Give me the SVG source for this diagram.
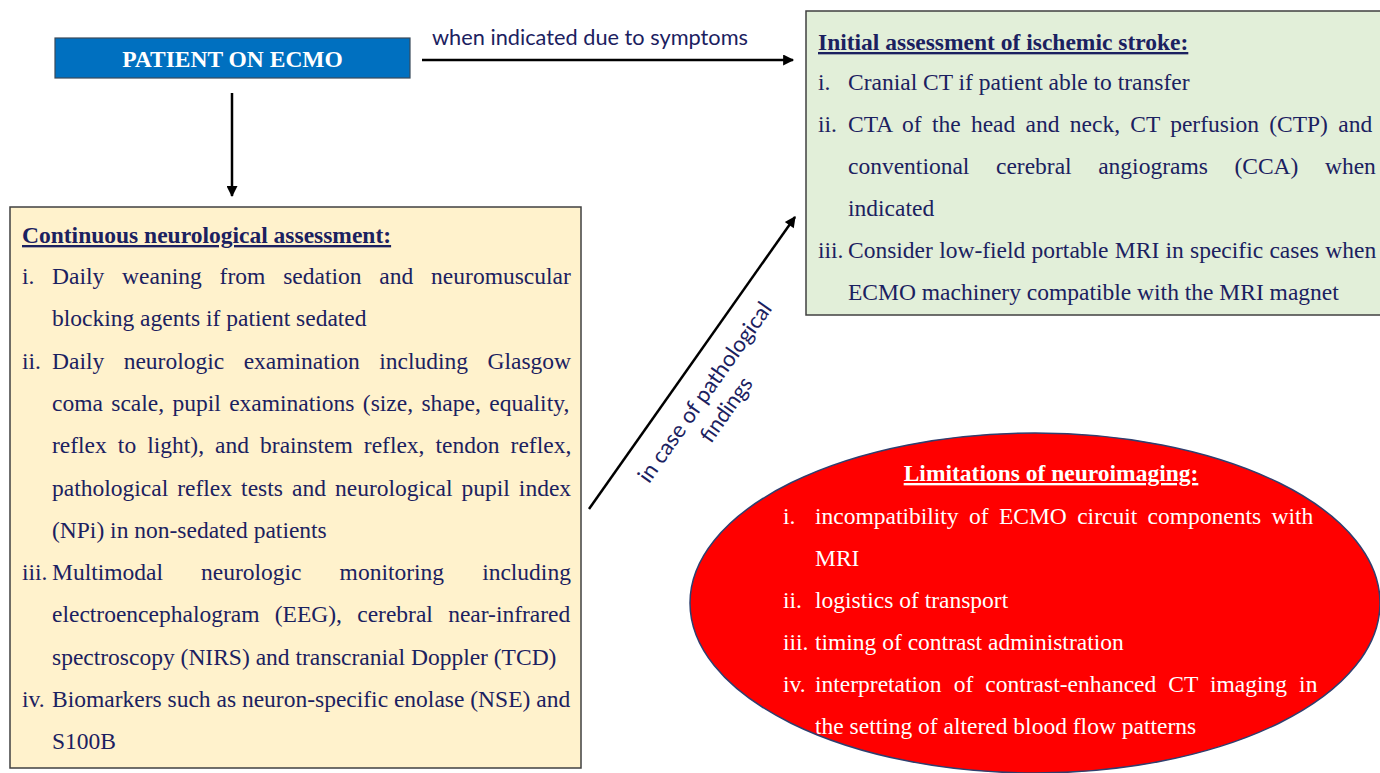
<svg xmlns="http://www.w3.org/2000/svg" width="1380" height="773" viewBox="0 0 1380 773">
<style>
.t{font-family:"Liberation Serif","Times New Roman",serif;font-size:23.5px;fill:#1B2160}
.b{font-weight:bold;text-decoration:underline}
.w{fill:#ffffff}
.c{font-family:Lato,"Open Sans",sans-serif;font-size:22px;fill:#1B2160}
.con{stroke:#000;stroke-width:2.5;fill:none}
</style>
<defs>
<marker id="ah" viewBox="0 0 10 10" refX="9" refY="5" markerWidth="5" markerHeight="4.4" orient="auto" markerUnits="strokeWidth">
<path d="M0,0 L10,5 L0,10 z" fill="#000"/>
</marker>
</defs>
<rect width="1380" height="773" fill="#ffffff"/>

<g id="connectors">
<line class="con" x1="232" y1="93" x2="232" y2="196" marker-end="url(#ah)"/>
<line class="con" x1="422" y1="60" x2="793" y2="60" marker-end="url(#ah)"/>
<line class="con" x1="589" y1="509" x2="795" y2="217" marker-end="url(#ah)"/>
<text class="c" x="432" y="45" textLength="316" lengthAdjust="spacingAndGlyphs">when indicated due to symptoms</text>
<g transform="translate(706,393) rotate(-54.8)">
<text class="c" x="0" y="6" text-anchor="middle" textLength="215" lengthAdjust="spacingAndGlyphs">in case of pathological</text>
<text class="c" x="-2" y="33.5" text-anchor="middle" textLength="74" lengthAdjust="spacingAndGlyphs">findings</text>
</g>
</g>

<g id="patient">
<rect x="55" y="38" width="355" height="40" fill="#0070C0" stroke="#3a4a5a" stroke-width="1.2"/>
<text class="t w" x="232.5" y="67" text-anchor="middle" font-weight="bold" font-size="23">PATIENT ON ECMO</text>
</g>

<g id="initial">
<rect x="806" y="11" width="580" height="304" fill="#E2EFD9" stroke="#404040" stroke-width="1.5"/>
<text class="t b" x="818" y="50">Initial assessment of ischemic stroke:</text>
<text class="t" x="818" y="90">i.</text>
<text class="t" x="848" y="90">Cranial CT if patient able to transfer</text>
<text class="t" x="818" y="132">ii.</text>
<text class="t" x="848" y="132" word-spacing="4.4">CTA of the head and neck, CT perfusion (CTP) and</text>
<text class="t" x="848" y="174" word-spacing="20.7">conventional cerebral angiograms (CCA) when</text>
<text class="t" x="848" y="216">indicated</text>
<text class="t" x="818" y="258">iii.</text>
<text class="t" x="848" y="258" word-spacing="0.4">Consider low-field portable MRI in specific cases when</text>
<text class="t" x="848" y="300">ECMO machinery compatible with the MRI magnet</text>
</g>

<g id="continuous">
<rect x="10" y="207" width="571" height="561" fill="#FFF2CC" stroke="#404040" stroke-width="1.5"/>
<text class="t b" x="22" y="243">Continuous neurological assessment:</text>
<text class="t" x="22" y="284">i.</text>
<text class="t" x="52" y="284" word-spacing="12">Daily weaning from sedation and neuromuscular</text>
<text class="t" x="52" y="326.3">blocking agents if patient sedated</text>
<text class="t" x="22" y="368.6">ii.</text>
<text class="t" x="52" y="368.6" word-spacing="13.6">Daily neurologic examination including Glasgow</text>
<text class="t" x="52" y="410.9" word-spacing="2.5">coma scale, pupil examinations (size, shape, equality,</text>
<text class="t" x="52" y="453.2" word-spacing="5.2">reflex to light), and brainstem reflex, tendon reflex,</text>
<text class="t" x="52" y="495.5" word-spacing="3.2">pathological reflex tests and neurological pupil index</text>
<text class="t" x="52" y="537.8">(NPi) in non-sedated patients</text>
<text class="t" x="22" y="580.1">iii.</text>
<text class="t" x="52" y="580.1" word-spacing="32.2">Multimodal neurologic monitoring including</text>
<text class="t" x="52" y="622.4" word-spacing="9.4">electroencephalogram (EEG), cerebral near-infrared</text>
<text class="t" x="52" y="664.7">spectroscopy (NIRS) and transcranial Doppler (TCD)</text>
<text class="t" x="22" y="707">iv.</text>
<text class="t" x="52" y="707">Biomarkers such as neuron-specific enolase (NSE) and</text>
<text class="t" x="52" y="749.3">S100B</text>
</g>

<g id="limitations">
<ellipse cx="1035" cy="603" rx="345" ry="170" fill="#FF0000" stroke="#2F3F6F" stroke-width="1.5"/>
<text class="t b w" x="1051" y="481" text-anchor="middle">Limitations of neuroimaging:</text>
<text class="t w" x="783" y="524">i.</text>
<text class="t w" x="815" y="524" word-spacing="4.5">incompatibility of ECMO circuit components with</text>
<text class="t w" x="815" y="566">MRI</text>
<text class="t w" x="783" y="608">ii.</text>
<text class="t w" x="815" y="608">logistics of transport</text>
<text class="t w" x="783" y="650">iii.</text>
<text class="t w" x="815" y="650">timing of contrast administration</text>
<text class="t w" x="783" y="692">iv.</text>
<text class="t w" x="815" y="692" word-spacing="6.2">interpretation of contrast-enhanced CT imaging in</text>
<text class="t w" x="815" y="734">the setting of altered blood flow patterns</text>
</g>
</svg>
